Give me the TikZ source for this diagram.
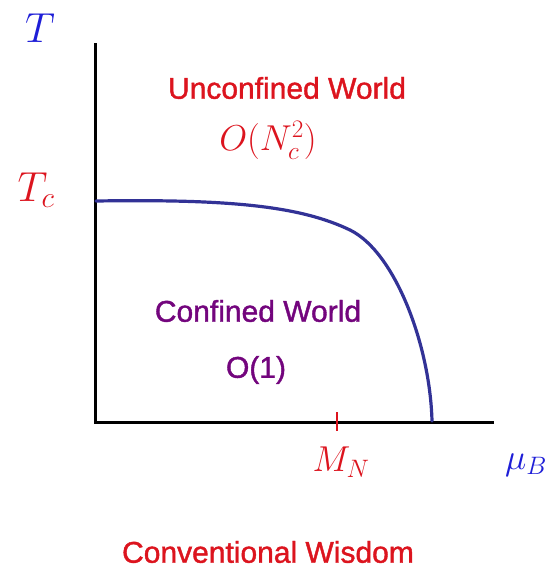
\RequirePackage{fix-cm}
\documentclass[tikz,border=0pt]{standalone}
\usepackage{fontspec}
\newfontfamily\worldfont{Liberation Sans}[FakeBold=1.3]
\definecolor{axblue}{RGB}{30,30,215}
\definecolor{lblred}{RGB}{220,20,30}
\definecolor{lblpurple}{RGB}{115,5,125}
\definecolor{curvenavy}{RGB}{50,50,150}
\tikzset{
  axisline/.style={line width=3pt,black},
  boundary/.style={line width=3.2pt,curvenavy,line cap=round},
  ticklbl/.style={lblred,line width=2.5pt},
  worldtxt/.style={font=\worldfont\fontsize{30}{34}\selectfont,inner sep=0pt},
  mathbig/.style={font=\fontsize{42}{46}\selectfont,inner sep=0pt},
  mathmid/.style={font=\fontsize{36}{40}\selectfont,inner sep=0pt}
}
\begin{document}
\begin{tikzpicture}[x=1pt,y=-1pt]
\useasboundingbox (0,0) rectangle (556,568);
% axes
\coordinate (yt) at (95,43);
\coordinate (org) at (95,422);
\coordinate (xr) at (494,422);
\draw[axisline] (yt) -- (org) -- (xr);
% tick
\coordinate (tk1) at (337,412);
\coordinate (tk2) at (337,431);
\draw[ticklbl] (tk1) -- (tk2);
% boundary curve
\coordinate (c0) at (96,201);
\coordinate (c1) at (350,230);
\coordinate (c2) at (432,421);
\draw[boundary] (c0) .. controls (230,199) and (300,206) .. (c1)
  .. controls (395,252) and (430,345) .. (c2);
% labels
\node[mathbig,text=axblue] (T) at (40,28) {$T$};
\node[mathbig,text=lblred] (Tc) at (36,190) {$T_c$};
\node[mathmid,text=lblred] (MN) at (341,462) {$M_N$};
\node[mathmid,text=axblue] (muB) at (526,465) {$\mu_B$};
\node[worldtxt,text=lblred] (unc) at (287,88) {Unconfined World};
\node[mathmid,text=lblred] (onc) at (268,140) {$O(N_c^2)$};
\node[worldtxt,text=lblpurple] (conf) at (258,311) {Confined World};
\node[worldtxt,text=lblpurple] (o1) at (256,370) {O(1)};
\node[worldtxt,text=lblred] (cw) at (268,552) {Conventional Wisdom};
\end{tikzpicture}
\end{document}
